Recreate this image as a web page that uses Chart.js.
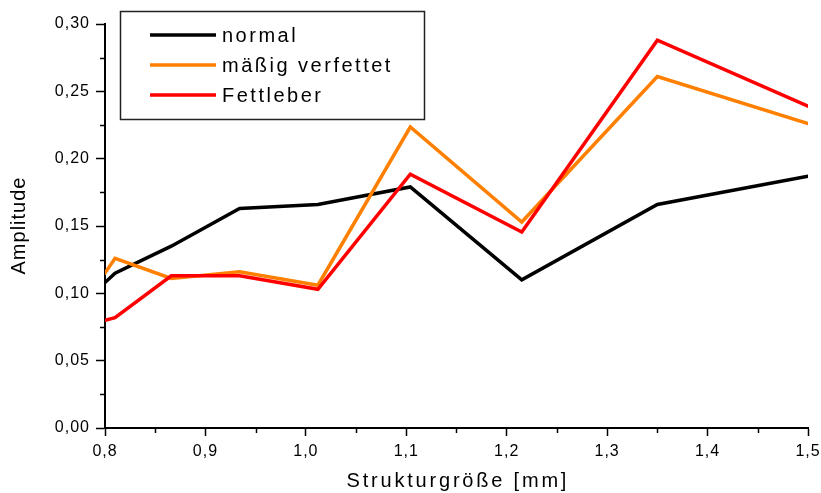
<!DOCTYPE html>
<html>
<head>
<meta charset="utf-8">
<script src="https://cdn.jsdelivr.net/npm/chart.js@4/dist/chart.umd.min.js"></script>
<style>
  html, body { margin: 0; padding: 0; background: #fff; }
  #wrap { width: 821px; height: 493px; position: relative; }
</style>
</head>
<body>
<div id="wrap"><canvas id="c" width="821" height="493"></canvas></div>
<script>
// ---- data ----
const structureSize = [0.8, 0.81, 0.866, 0.934, 1.012, 1.104, 1.215, 1.35, 1.5];
const normal        = [0.108, 0.115, 0.135, 0.163, 0.166, 0.179, 0.110, 0.166, 0.187];
const maessig       = [0.115, 0.126, 0.111, 0.116, 0.106, 0.2235, 0.153, 0.261, 0.226];
const fettleber     = [0.080, 0.082, 0.113, 0.113, 0.103, 0.1885, 0.1455, 0.288, 0.239];
const seriesNames   = ['normal', 'mäßig verfettet', 'Fettleber'];
const xTitle = 'Strukturgröße [mm]';
const yTitle = 'Amplitude';

const FONT = "'Liberation Sans', Arial, sans-serif";
Chart.defaults.font.family = FONT;
Chart.defaults.color = '#000';

function pts(ys) { return structureSize.map((x, i) => ({ x: x, y: ys[i] })); }
function comma(v, d) { return v.toFixed(d).replace('.', ','); }
const isMajorX = v => Math.abs(Math.round(v * 10) - v * 10) < 1e-6;
const isMajorY = v => Math.abs(Math.round(v * 20) - v * 20) < 1e-6;

const spacingPlugin = {
  id: 'spacing',
  beforeUpdate(chart) { chart.ctx.letterSpacing = '1px'; },
  beforeDraw(chart) { chart.ctx.letterSpacing = '1px'; }
};

const minorTicks = {
  id: 'minorTicks',
  afterDraw(chart) {
    const ctx = chart.ctx;
    const xs = chart.scales.x, ys = chart.scales.y;
    ctx.save();
    ctx.strokeStyle = '#000';
    ctx.lineWidth = 1.5;
    xs.ticks.forEach(t => {
      if (isMajorX(t.value)) return;
      const px = Math.round(xs.getPixelForValue(t.value)) + 0.5;
      ctx.beginPath(); ctx.moveTo(px, xs.top); ctx.lineTo(px, xs.top + 5); ctx.stroke();
    });
    ys.ticks.forEach(t => {
      if (isMajorY(t.value)) return;
      const py = Math.round(ys.getPixelForValue(t.value)) + 0.5;
      ctx.beginPath(); ctx.moveTo(ys.right, py); ctx.lineTo(ys.right - 5, py); ctx.stroke();
    });
    ctx.restore();
  }
};

const axisTitles = {
  id: 'axisTitles',
  afterDraw(chart) {
    const ctx = chart.ctx, a = chart.chartArea;
    ctx.save();
    ctx.fillStyle = '#000';
    ctx.font = '20px ' + FONT;
    ctx.textAlign = 'center';
    ctx.textBaseline = 'middle';
    ctx.letterSpacing = '2.8px';
    ctx.fillText(xTitle, (a.left + a.right) / 2 + 1.4, chart.height - 12);
    ctx.letterSpacing = '1px';
    ctx.translate(19, (a.top + a.bottom) / 2);
    ctx.rotate(-Math.PI / 2);
    ctx.fillText(yTitle, 0.5, 0);
    ctx.restore();
  }
};

const boxLegend = {
  id: 'boxLegend',
  afterDraw(chart) {
    const ctx = chart.ctx, a = chart.chartArea;
    const bx = a.left + 15, by = a.top - 13, bw = 304, bh = 108;
    ctx.save();
    ctx.strokeStyle = '#222';
    ctx.lineWidth = 1.5;
    ctx.strokeRect(bx + 0.5, by + 0.5, bw, bh);
    ctx.font = '20px ' + FONT;
    ctx.letterSpacing = '2.5px';
    ctx.textBaseline = 'middle';
    ctx.textAlign = 'left';
    chart.data.datasets.forEach((ds, i) => {
      const y = by + 24 + i * 30;
      ctx.strokeStyle = ds.borderColor;
      ctx.lineWidth = 3.5;
      ctx.beginPath(); ctx.moveTo(bx + 30, y); ctx.lineTo(bx + 96, y); ctx.stroke();
      ctx.fillStyle = '#000';
      ctx.fillText(ds.label, bx + 102, y + 1);
    });
    ctx.restore();
  }
};

new Chart(document.getElementById('c'), {
  type: 'line',
  data: {
    datasets: [
      { label: seriesNames[0], data: pts(normal),    borderColor: '#000000', order: 3 },
      { label: seriesNames[1], data: pts(maessig),   borderColor: '#FF8000', order: 2 },
      { label: seriesNames[2], data: pts(fettleber), borderColor: '#FF0000', order: 1 }
    ]
  },
  options: {
    responsive: false,
    animation: false,
    events: [],
    parsing: false,
    elements: {
      line: { borderWidth: 3.5, tension: 0, fill: false, borderCapStyle: 'round', borderJoinStyle: 'miter' },
      point: { radius: 0 }
    },
    layout: { padding: { left: 0, right: 13, top: 24, bottom: 0 } },
    plugins: { legend: { display: false }, tooltip: { enabled: false } },
    scales: {
      x: {
        type: 'linear', min: 0.8, max: 1.5,
        afterFit(s) { s.height = 65; s.paddingLeft = 0; s.paddingRight = 0; },
        border: { display: true, color: '#000', width: 2 },
        grid: { drawOnChartArea: false, drawTicks: true, tickLength: 8, tickWidth: 1.5,
                tickColor: c => (c.tick && isMajorX(c.tick.value)) ? '#000' : 'rgba(0,0,0,0)' },
        ticks: { stepSize: 0.05, autoSkip: false, maxRotation: 0, padding: 6,
                 font: { size: 16 }, color: '#000',
                 callback: v => isMajorX(v) ? comma(v, 1) : '' },
        title: { display: false }
      },
      y: {
        type: 'linear', min: 0, max: 0.3,
        afterFit(s) { s.width = 105; s.paddingTop = 0; s.paddingBottom = 0; },
        border: { display: true, color: '#000', width: 2 },
        grid: { drawOnChartArea: false, drawTicks: true, tickLength: 9, tickWidth: 1.5,
                tickColor: c => (c.tick && isMajorY(c.tick.value)) ? '#000' : 'rgba(0,0,0,0)' },
        ticks: { stepSize: 0.025, autoSkip: false, padding: 6,
                 font: { size: 16 }, color: '#000',
                 callback: v => isMajorY(v) ? comma(v, 2) : '' },
        title: { display: false }
      }
    }
  },
  plugins: [spacingPlugin, minorTicks, axisTitles, boxLegend]
});
</script>
</body>
</html>
